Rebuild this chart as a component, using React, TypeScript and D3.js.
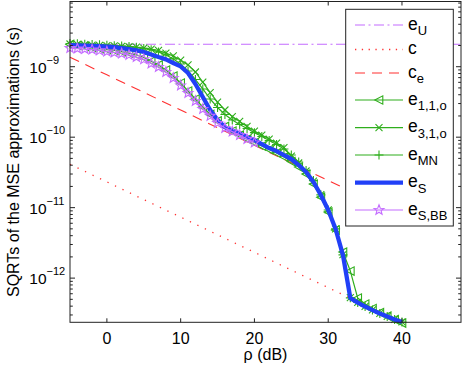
import React from "react";
import * as d3 from "d3";

// rho grid (dB)
const rho = [-5, -4, -3, -2, -1, 0, 1, 2, 3, 4, 5, 6, 7, 8, 9, 10, 11, 12, 13, 14, 15, 16, 17, 18, 19, 20,
  21, 22, 23, 24, 25, 26, 27, 28, 29, 30, 31, 32, 33, 34, 35, 36, 37, 38, 39, 40];
const rhoBB = [-5, -4, -3, -2, -1, 0, 1, 2, 3, 4, 5, 6, 7, 8, 9, 10, 11, 12, 13, 14, 15, 16, 17, 18, 19, 20];
const rhoLin = [-5, 0, 5, 10, 15, 20, 25, 30, 35, 40];
const rhoU = [-5, 48];

const eU = [2.08e-9, 2.08e-9];
const cVals = [4.12e-11, 2.32e-11, 1.3e-11, 7.33e-12, 4.12e-12, 2.32e-12, 1.3e-12, 7.33e-13, 4.12e-13, 2.32e-13];
const ceVals = [1.36e-9, 7.67e-10, 4.32e-10, 2.43e-10, 1.36e-10, 7.67e-11, 4.32e-11, 2.43e-11, 1.36e-11, 7.67e-12];

const e11o = [2.07e-9, 2.0e-9, 1.94e-9, 1.87e-9, 1.81e-9, 1.75e-9, 1.7e-9, 1.64e-9, 1.56e-9, 1.47e-9, 1.35e-9, 1.2e-9,
  1.06e-9, 8.98e-10, 7.38e-10, 5.87e-10, 4.52e-10, 3.48e-10, 2.68e-10, 2.1e-10, 1.7e-10, 1.42e-10, 1.22e-10, 1.07e-10,
  9.41e-11, 8.4e-11, 7.49e-11, 6.68e-11, 5.96e-11, 5.23e-11, 4.51e-11, 3.77e-11, 3.0e-11, 2.16e-11, 1.41e-11, 8.66e-12,
  4.81e-12, 2.34e-12, 1.26e-12, 5.21e-13, 4.28e-13, 3.7e-13, 3.24e-13, 2.89e-13, 2.58e-13, 2.3e-13];
const e31o = [2.1e-9, 2.08e-9, 2.06e-9, 2.03e-9, 2.01e-9, 1.99e-9, 1.97e-9, 1.95e-9, 1.92e-9, 1.89e-9, 1.84e-9, 1.78e-9,
  1.7e-9, 1.56e-9, 1.42e-9, 1.24e-9, 1.06e-9, 8.41e-10, 6.06e-10, 4.3e-10, 3.15e-10, 2.43e-10, 1.96e-10, 1.67e-10,
  1.42e-10, 1.22e-10, 1.07e-10, 9.41e-11, 8.26e-11, 7.13e-11, 5.4e-11, 4.3e-11, 3.31e-11, 2.38e-11, 1.53e-11, 9.3e-12,
  5.0e-12, 2.15e-12, 5.3e-13, 4.52e-13, 3.97e-13, 3.53e-13, 3.15e-13, 2.86e-13, 2.59e-13, 2.39e-13];
const eMN = [2.13e-9, 2.11e-9, 2.09e-9, 2.07e-9, 2.05e-9, 2.02e-9, 1.99e-9, 1.97e-9, 1.93e-9, 1.89e-9, 1.82e-9, 1.74e-9,
  1.62e-9, 1.47e-9, 1.29e-9, 1.09e-9, 8.69e-10, 6.58e-10, 4.83e-10, 3.48e-10, 2.64e-10, 2.1e-10, 1.75e-10, 1.51e-10,
  1.33e-10, 1.16e-10, 1.02e-10, 8.96e-11, 7.87e-11, 6.79e-11, 5.58e-11, 4.44e-11, 3.36e-11, 2.42e-11, 1.52e-11, 9.28e-12,
  4.99e-12, 2.14e-12, 5.25e-13, 4.51e-13, 3.96e-13, 3.52e-13, 3.14e-13, 2.85e-13, 2.58e-13, 2.38e-13];
const eS = [2.03e-9, 2.01e-9, 1.99e-9, 1.97e-9, 1.95e-9, 1.92e-9, 1.89e-9, 1.84e-9, 1.78e-9, 1.7e-9, 1.62e-9, 1.49e-9,
  1.37e-9, 1.27e-9, 1.13e-9, 1.01e-9, 8.14e-10, 5.68e-10, 3.71e-10, 2.43e-10, 1.75e-10, 1.39e-10, 1.24e-10, 1.13e-10,
  1.0e-10, 9.11e-11, 7.99e-11, 7.01e-11, 6.36e-11, 5.58e-11, 4.9e-11, 4.02e-11, 3.2e-11, 2.31e-11, 1.51e-11, 9.24e-12,
  4.97e-12, 2.12e-12, 5.21e-13, 4.5e-13, 3.95e-13, 3.52e-13, 3.14e-13, 2.85e-13, 2.58e-13, 2.38e-13];
const eSBB = [1.84e-9, 1.81e-9, 1.78e-9, 1.75e-9, 1.7e-9, 1.64e-9, 1.59e-9, 1.54e-9, 1.47e-9, 1.37e-9, 1.27e-9, 1.11e-9,
  9.9e-10, 8.41e-10, 6.91e-10, 5.41e-10, 4.23e-10, 3.26e-10, 2.51e-10, 2.0e-10, 1.59e-10, 1.35e-10, 1.2e-10, 1.07e-10,
  9.41e-11, 8.4e-11];

const xTicks = [0, 10, 20, 30, 40];
const yExps = [-9, -10, -11, -12];
const legendLabels = [["e", "U"], ["c", ""], ["c", "e"], ["e", "1,1,o"], ["e", "3,1,o"], ["e", "MN"], ["e", "S"], ["e", "S,BB"]];

const GREEN = "#2fae1c";
const BLUE = "#2140f7";
const PURPLE = "#c46cff";
const RED = "#ff3030";
const FONT = "'Liberation Sans', Arial, Helvetica, sans-serif";

const L = 70, R = 461, T = 1.5, B = 322.3;

const starPath = (r: number) => {
  const pts: string[] = [];
  for (let i = 0; i < 10; i++) {
    const a = -Math.PI / 2 + (i * Math.PI) / 5;
    const rr = i % 2 === 0 ? r : r * 0.42;
    pts.push(`${(rr * Math.cos(a)).toFixed(2)},${(rr * Math.sin(a)).toFixed(2)}`);
  }
  return "M" + pts.join("L") + "Z";
};

const markers: Record<string, string> = {
  tri: "M-4.2,0L3.8,-4.2L3.8,4.2Z",
  x: "M-3.5,-3.5L3.5,3.5M-3.5,3.5L3.5,-3.5",
  plus: "M-4.5,0H4.5M0,-4.5V4.5",
  star: starPath(5.2),
};

const App = () => {
  const x = d3.scaleLinear().domain([-5, 48]).range([L, R]);
  const y = d3.scaleLog().domain([2.36e-13, 8.42e-9]).range([B, T]);

  const line = (xs: number[], ys: number[]) =>
    d3.line<number>().x((_, i) => x(xs[i])).y((d) => y(d))(ys) || "";

  const minor: number[] = [];
  for (let e = -13; e <= -9; e++) {
    for (let k = 2; k <= 9; k++) {
      const v = k * Math.pow(10, e);
      if (v > 2.36e-13 && v < 8.42e-9) minor.push(v);
    }
  }

  const series = [
    { xs: rho, ys: e11o, color: GREEN, w: 1.2, m: "tri" },
    { xs: rho, ys: e31o, color: GREEN, w: 1.2, m: "x" },
    { xs: rho, ys: eMN, color: GREEN, w: 1.2, m: "plus" },
    { xs: rho, ys: eS, color: BLUE, w: 4.3, m: "" },
    { xs: rhoBB, ys: eSBB, color: PURPLE, w: 1.2, m: "star" },
  ];

  const legendRows = [25, 49.5, 73, 100, 127.7, 155, 182.7, 210];
  const legendStyle = [
    { color: PURPLE, w: 1.1, dash: "10 3.5 2 3.5", m: "" },
    { color: RED, w: 1.3, dash: "1.3 5.5", m: "" },
    { color: RED, w: 1.1, dash: "10 7", m: "" },
    { color: GREEN, w: 1.2, dash: "", m: "tri" },
    { color: GREEN, w: 1.2, dash: "", m: "x" },
    { color: GREEN, w: 1.2, dash: "", m: "plus" },
    { color: BLUE, w: 4.3, dash: "", m: "" },
    { color: PURPLE, w: 1.2, dash: "", m: "star" },
  ];

  return (
    <svg width={463} height={372} style={{ position: "absolute", left: 0, top: 0, background: "#fff" }} fontFamily={FONT}>
      <rect x={0} y={0} width={463} height={372} fill="#fff" />

      {/* reference lines */}
      <path d={line(rhoU, eU)} fill="none" stroke={PURPLE} strokeWidth={1.1} strokeDasharray="10 3.5 2 3.5" />
      <path d={line(rhoLin, cVals)} fill="none" stroke={RED} strokeWidth={1.3} strokeDasharray="1.3 7" />
      <path d={line(rhoLin, ceVals)} fill="none" stroke={RED} strokeWidth={1.1} strokeDasharray="10 7" />

      {series.map((s, si) => (
        <g key={si}>
          <path d={line(s.xs, s.ys)} fill="none" stroke={s.color} strokeWidth={s.w} strokeLinejoin="round" />
          {s.m &&
            s.ys.map((v, i) => (
              <path
                key={i}
                d={markers[s.m]}
                transform={`translate(${x(s.xs[i])},${y(v)})`}
                fill="none"
                stroke={s.color}
                strokeWidth={1.1}
              />
            ))}
        </g>
      ))}

      {/* axes box */}
      <rect x={L} y={T} width={R - L} height={B - T} fill="none" stroke="#222" strokeWidth={1} />
      {xTicks.map((t) => (
        <g key={t}>
          <line x1={x(t)} x2={x(t)} y1={B} y2={B - 4} stroke="#222" />
          <line x1={x(t)} x2={x(t)} y1={T} y2={T + 4} stroke="#222" />
          <text x={x(t)} y={343.5} fontSize={16} textAnchor="middle" fill="#000">
            {t}
          </text>
        </g>
      ))}
      {yExps.map((e) => {
        const ty = y(Math.pow(10, e));
        return (
          <g key={e}>
            <line x1={L} x2={L + 5} y1={ty} y2={ty} stroke="#222" />
            <line x1={R} x2={R - 5} y1={ty} y2={ty} stroke="#222" />
            <text x={29.3} y={ty + 6.3} fontSize={15.5} fill="#000">
              10
              <tspan dy={-9.3} fontSize={11}>
                {"\u2212" + -e}
              </tspan>
            </text>
          </g>
        );
      })}
      {minor.map((v, i) => (
        <g key={i}>
          <line x1={L} x2={L + 2.8} y1={y(v)} y2={y(v)} stroke="#222" />
          <line x1={R} x2={R - 2.8} y1={y(v)} y2={y(v)} stroke="#222" />
        </g>
      ))}

      <text x={265.5} y={360} fontSize={16} textAnchor="middle" fill="#000">
        ρ (dB)
      </text>
      <text transform="translate(18.5,162) rotate(-90)" fontSize={16} textAnchor="middle" fill="#000">
        SQRTs of the MSE approximations (s)
      </text>

      {/* legend */}
      <rect x={345.7} y={9.3} width={107.6} height={216.7} fill="#fff" stroke="#222" strokeWidth={1} />
      {legendLabels.map((lab, i) => {
        const ry = legendRows[i];
        const st = legendStyle[i];
        return (
          <g key={i}>
            <line x1={355} x2={403} y1={ry} y2={ry} stroke={st.color} strokeWidth={st.w} strokeDasharray={st.dash || undefined} />
            {st.m && (
              <path d={markers[st.m]} transform={`translate(379,${ry})`} fill="none" stroke={st.color} strokeWidth={1.1} />
            )}
            <text x={408} y={ry + 4.5} fontSize={17.5} fill="#000">
              {lab[0]}
              {lab[1] && (
                <tspan dy={5.5} fontSize={13}>
                  {lab[1]}
                </tspan>
              )}
            </text>
          </g>
        );
      })}
    </svg>
  );
};

export default App;
